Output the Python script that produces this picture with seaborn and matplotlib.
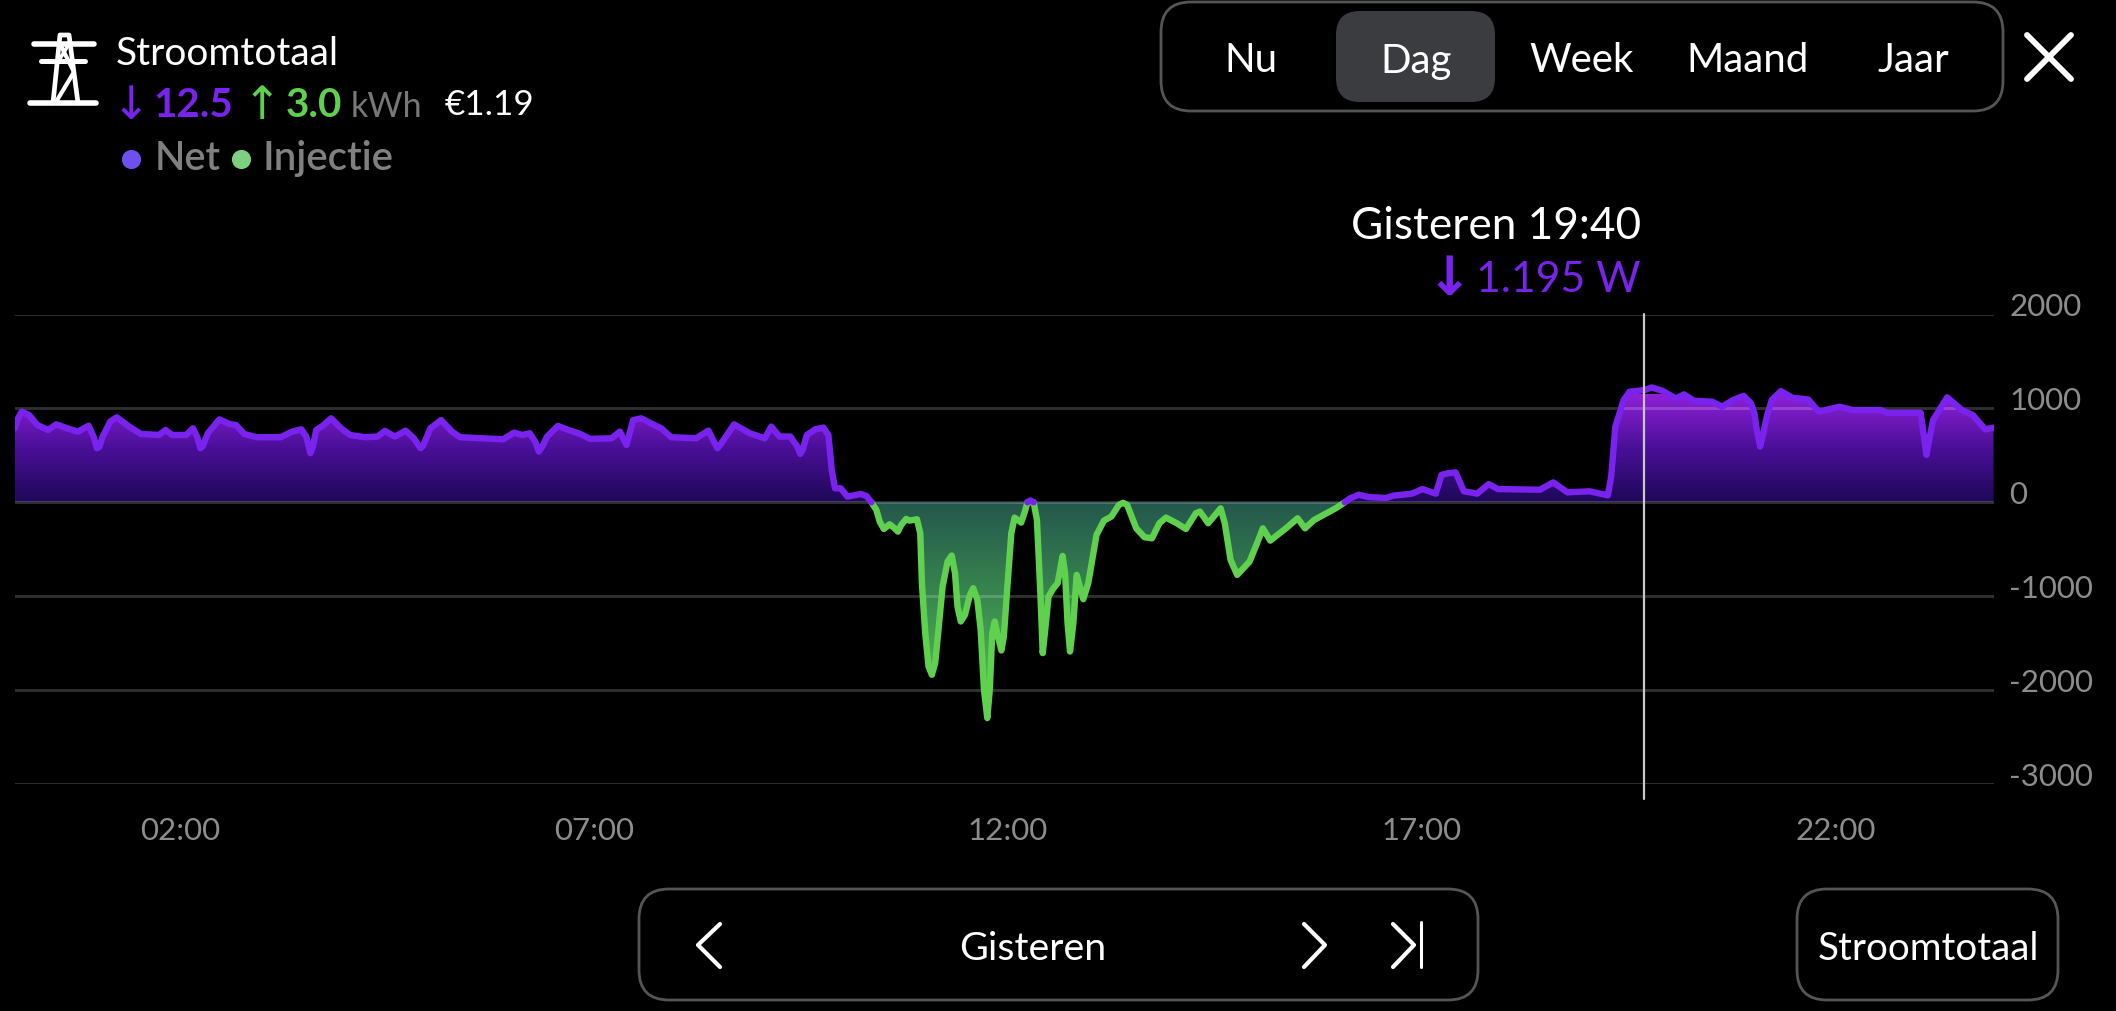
import numpy as np
import pandas as pd
import seaborn as sns
import matplotlib
matplotlib.use("Agg")
import matplotlib.pyplot as plt
from matplotlib.colors import LinearSegmentedColormap
from matplotlib.patches import FancyBboxPatch
from matplotlib.transforms import ScaledTranslation

# ---- data ----
net_am_hours = [0,0.03,0.08,0.17,0.27,0.4,0.5,0.63,0.76,0.89,0.95,0.99,1.02,1.06,1.15,1.23,1.38,1.52,1.74,1.82,1.9,2.07,2.15,2.2,2.24,2.27,2.33,2.47,2.59,2.67,2.77,2.92,3.21,3.35,3.46,3.52,3.57,3.6,3.64,3.72,3.82,3.94,4.05,4.23,4.38,4.47,4.59,4.72,4.82,4.9,4.93,5.02,5.15,5.28,5.38,5.9,6.03,6.13,6.22,6.29,6.33,6.37,6.43,6.56,6.69,6.83,6.95,7.21,7.31,7.39,7.47,7.57,7.7,7.81,7.93,8.23,8.38,8.45,8.49,8.53,8.69,8.88,9.06,9.14,9.24,9.37,9.45,9.49,9.52,9.57,9.67,9.77,9.83,9.87,9.91,9.98,10.06,10.22,10.29,10.35]
net_am_watts = [790,880,965,930,823,770,830,788,753,816,700,576,590,700,859,905,806,728,717,770,717,717,788,700,576,600,735,883,834,823,728,693,693,753,777,700,523,590,770,816,894,788,717,693,700,760,700,763,682,576,600,788,876,753,693,671,742,717,735,640,541,590,700,813,770,728,675,682,753,611,876,894,834,788,693,682,763,640,576,620,830,735,682,806,700,700,600,516,560,717,777,795,717,344,149,149,60,89,67,0]
inj_hours = [10.35,10.41,10.45,10.5,10.57,10.63,10.67,10.71,10.77,10.81,10.9,10.94,10.96,11.0,11.04,11.08,11.12,11.16,11.21,11.27,11.32,11.36,11.39,11.43,11.48,11.54,11.58,11.63,11.67,11.71,11.75,11.78,11.81,11.84,11.87,11.92,11.95,11.99,12.04,12.08,12.16,12.21,12.235,12.31,12.35,12.39,12.42,12.45,12.49,12.55,12.6,12.66,12.69,12.72,12.75,12.79,12.83,12.91,12.97,13.07,13.16,13.25,13.34,13.39,13.44,13.55,13.65,13.74,13.83,13.91,14.04,14.15,14.27,14.32,14.42,14.57,14.62,14.69,14.77,14.92,15.01,15.08,15.17,15.36,15.5,15.59,15.7,15.96,16.07]
inj_watts = [0,-82,-206,-284,-234,-277,-312,-241,-177,-195,-181,-330,-862,-1394,-1748,-1837,-1713,-1358,-897,-631,-567,-755,-1110,-1269,-1199,-986,-915,-1039,-1358,-1996,-2298,-1996,-1394,-1269,-1394,-1578,-1429,-933,-330,-163,-216,-82,0,0,-188,-933,-1606,-1358,-1004,-915,-862,-571,-755,-1287,-1589,-1287,-773,-1032,-862,-347,-195,-152,-28,-5,-28,-277,-372,-383,-223,-163,-223,-284,-117,-99,-223,-64,-223,-613,-773,-631,-436,-277,-408,-277,-170,-277,-188,-64,0]
net_noon_hours = [12.235,12.27,12.31]
net_noon_watts = [0,20,0]
net_pm_hours = [16.07,16.13,16.24,16.35,16.57,16.66,16.88,17.01,17.17,17.24,17.33,17.41,17.51,17.67,17.81,17.92,18.43,18.59,18.76,19.03,19.25,19.29,19.34,19.44,19.51,19.69,19.78,19.91,20.07,20.17,20.29,20.51,20.63,20.76,20.89,20.98,21.02,21.05,21.09,21.13,21.17,21.23,21.34,21.48,21.67,21.8,22.05,22.21,22.55,22.62,23.03,23.06,23.1,23.14,23.18,23.35,23.53,23.66,23.81,23.91]
net_pm_watts = [0,40,81,56,46,71,92,141,92,293,311,318,117,92,194,141,134,212,106,117,74,276,806,1088,1177,1195,1223,1187,1106,1149,1081,1071,1018,1088,1134,1053,950,770,594,740,912,1088,1184,1113,1095,965,1018,982,982,954,954,760,505,700,876,1117,982,929,777,795]

x_ticks = [2, 7, 12, 17, 22]
x_tick_labels = ["02:00", "07:00", "12:00", "17:00", "22:00"]
y_ticks = [2000, 1000, 0, -1000, -2000, -3000]
y_tick_labels = ["2000", "1000", "0", "-1000", "-2000", "-3000"]
cursor_hour = 19.69
tabs = ["Nu", "Dag", "Week", "Maand", "Jaar"]

PURPLE = "#7a22ee"
GREEN = "#5fd14f"
W, H = 2116, 1011

sns.set_theme(style="dark", rc={"figure.facecolor": "black", "axes.facecolor": "black"})
plt.rcParams["font.family"] = ["Lato", "DejaVu Sans"]

fig = plt.figure(figsize=(W / 100, H / 100), dpi=100, facecolor="black")
L, R, T, B = 15, 1994, 314.5, 784.0
ax = fig.add_axes([L / W, 1 - B / H, (R - L) / W, (B - T) / H])
ax.set_facecolor("black")
xlim = (0.0, 23.916)
ylim = (-3000, 2000)

cm_net = LinearSegmentedColormap.from_list("net", ["#1e0858", "#4a0f98", "#8f20d8"])
cm_inj = LinearSegmentedColormap.from_list("inj", ["#24574c", "#3c8f50", "#5cc850"])


def gradient_fill(hours, watts, cmap, y0, y1):
    poly = ax.fill_between(hours, 0, watts, color="none", linewidth=0)
    grad = np.linspace(0, 1, 256).reshape(-1, 1)
    im = ax.imshow(grad, cmap=cmap, origin="lower", aspect="auto",
                   extent=(xlim[0], xlim[1], y0, y1), zorder=1, interpolation="bilinear")
    im.set_clip_path(poly.get_paths()[0], transform=ax.transData)


gradient_fill(net_am_hours, net_am_watts, cm_net, 0, 1150)
gradient_fill(net_pm_hours, net_pm_watts, cm_net, 0, 1150)
gradient_fill(inj_hours, inj_watts, cm_inj.reversed(), -2300, 0)

for yv in y_ticks:
    ax.axhline(yv, color="white", alpha=0.19, lw=2.1, zorder=2)

line_style = dict(linewidth=4.6, zorder=3, legend=False, estimator=None, sort=False,
                  solid_joinstyle="round", solid_capstyle="round")
sns.lineplot(data=pd.DataFrame({"h": inj_hours, "w": inj_watts}), x="h", y="w", color=GREEN, ax=ax, **line_style)
sns.lineplot(data=pd.DataFrame({"h": net_am_hours, "w": net_am_watts}), x="h", y="w", color=PURPLE, ax=ax, **line_style)
sns.lineplot(data=pd.DataFrame({"h": net_noon_hours, "w": net_noon_watts}), x="h", y="w", color=PURPLE, ax=ax, **line_style)
sns.lineplot(data=pd.DataFrame({"h": net_pm_hours, "w": net_pm_watts}), x="h", y="w", color=PURPLE, ax=ax, **line_style)

ax.set_xlim(*xlim)
ax.set_ylim(*ylim)
ax.set_xlabel("")
ax.set_ylabel("")
for s in ax.spines.values():
    s.set_visible(False)
ax.grid(False)
ax.set_xticks(x_ticks, x_tick_labels)
ax.yaxis.tick_right()
ax.set_yticks(y_ticks, y_tick_labels)
ax.tick_params(axis="x", length=0, pad=24, labelsize=22.5, labelcolor="#8c8c8c")
ax.tick_params(axis="y", length=0, pad=11, labelsize=22.5, labelcolor="#8c8c8c")
for lab in ax.get_yticklabels():
    lab.set_transform(lab.get_transform() + ScaledTranslation(0, 10 / 100, fig.dpi_scale_trans))
ax.plot([cursor_hour, cursor_hour], [2000, -3160], color="#c8c8c8", lw=1.6, zorder=4, clip_on=False)

# ---- interface layer in pixel coordinates ----
ui = fig.add_axes([0, 0, 1, 1], facecolor="none")
ui.set_xlim(0, W)
ui.set_ylim(H, 0)
ui.axis("off")


def box(x0, y0, x1, y1, r, fc="none", ec="#555555", lw=2.0):
    ui.add_patch(FancyBboxPatch((x0 + r, y0 + r), x1 - x0 - 2 * r, y1 - y0 - 2 * r,
                                boxstyle=f"round,pad={r},rounding_size={r}",
                                fc=fc, ec=ec, lw=lw))


def seg(xs, ys, color="white", lw=3.0):
    ui.plot(xs, ys, color=color, lw=lw, solid_capstyle="round", solid_joinstyle="round")


def txt(x, y, s, size, color="white", ha="left", weight="normal", va="baseline", family=None):
    kw = {"family": family} if family else {}
    ui.text(x, y, s, fontsize=size, color=color, ha=ha, va=va, fontweight=weight, **kw)


# pylon icon
seg([33.5, 94], [44, 44], lw=4.0)
seg([41, 85], [61, 61], lw=3.6)
seg([30, 96], [103, 103], lw=4.0)
seg([53, 60, 69, 78], [103, 35, 35, 103], lw=3.4)
seg([60, 74, 56], [44, 72, 102], lw=3.0)
seg([69, 58], [44, 62], lw=2.6)

txt(116, 65, "Stroomtotaal", 28)
txt(131, 119, "\u2193", 33, PURPLE, ha="center", family=["DejaVu Sans"])
txt(153, 117, "12.5", 29, PURPLE, weight="bold")
txt(262, 119, "\u2191", 33, GREEN, ha="center", family=["DejaVu Sans"])
txt(286, 117, "3.0", 29, GREEN, weight="bold")
txt(351, 117, "kWh", 24.5, "#777777")
txt(445, 115, "\u20ac1.19", 25.2)
ui.scatter([131], [159], s=190, color="#6f50ef", linewidths=0)
txt(155, 170, "Net", 28.5, "#808080", weight="semibold")
ui.scatter([241], [159], s=190, color="#7fcf80", linewidths=0)
txt(263, 170, "Injectie", 29, "#808080", weight="semibold")

# period selector
box(1161, 2, 2003, 111, 30)
box(1336, 11, 1495, 102, 24, fc="#3a3c40", ec="none", lw=0)
for cx, tab in zip([1251, 1416, 1582, 1748, 1913], tabs):
    txt(cx, 72.5, tab, 29, ha="center")
seg([2027, 2071], [35, 79], lw=4.2)
seg([2071, 2027], [35, 79], lw=4.2)

# cursor readout
txt(1641, 239, "Gisteren 19:40", 31.8, ha="right")
txt(1641, 292, "1.195 W", 30.8, PURPLE, ha="right")
txt(1449, 295, "\u2193", 39, PURPLE, ha="center", weight="bold", family=["DejaVu Sans"])

# bottom navigation
box(639, 889, 1478, 1000, 30)
box(1797, 889, 2058, 1000, 30)
txt(1033, 960, "Gisteren", 28.4, ha="center")
txt(1928, 960, "Stroomtotaal", 27.7, ha="center")
seg([720, 698, 720], [924, 945, 967], lw=3.0)
seg([1304, 1325, 1304], [924, 945, 967], lw=3.0)
seg([1393, 1414, 1393], [924, 945, 967], lw=3.0)
seg([1421, 1421], [922, 967], lw=2.2)

fig.savefig("out.png", dpi=100, facecolor="black")
